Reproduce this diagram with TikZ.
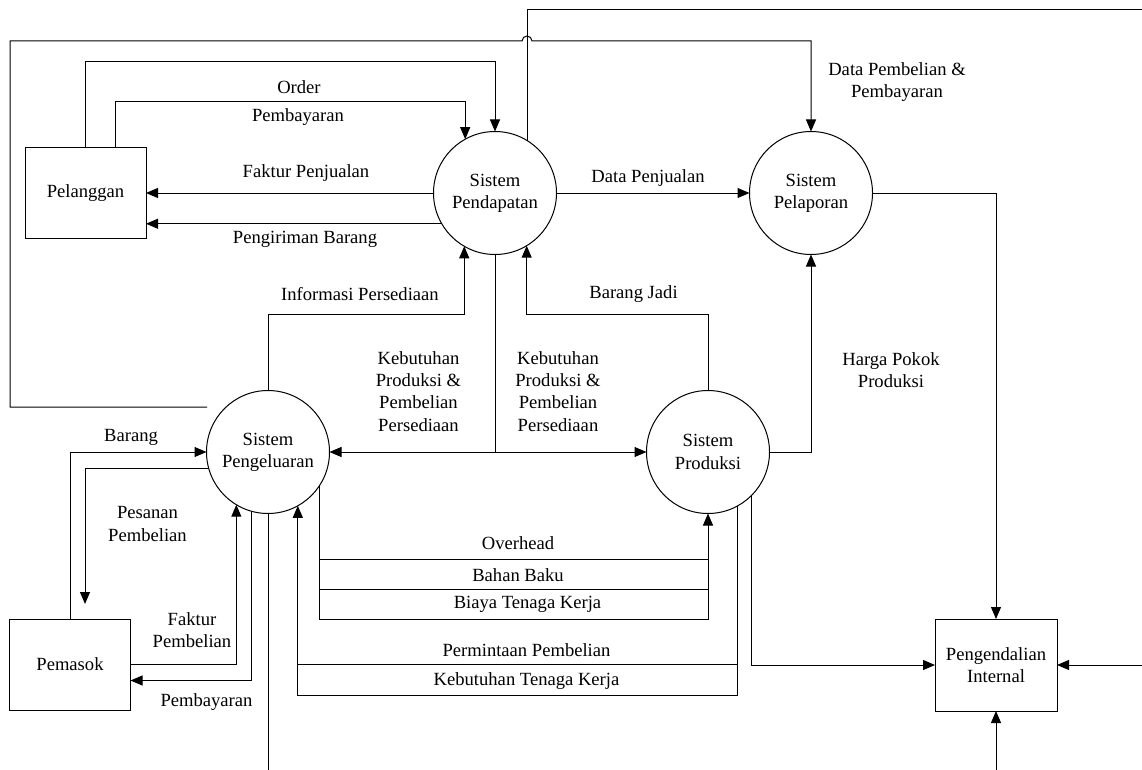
\documentclass[tikz,border=0pt]{standalone}
\usepackage{fontspec}
\setmainfont{Liberation Serif}
\usetikzlibrary{arrows.meta,calc}
\newcommand\dfdfont{\fontsize{18.6}{22.2}\selectfont}
\begin{document}
\begin{tikzpicture}[x=1pt,y=-1pt,line width=1pt,
  arr/.style={-{Triangle[length=12pt,width=10pt]}},
  proc/.style={circle,draw,minimum size=123pt,inner sep=0pt,outer sep=0pt,align=center,font=\dfdfont},
  ent/.style={rectangle,draw,minimum width=121pt,minimum height=91pt,inner sep=0pt,outer sep=0pt,align=center,font=\dfdfont},
  lbl/.style={align=center,font=\dfdfont,inner sep=0pt}]
\useasboundingbox (0,0) rectangle (1142,770);
% nodes
\node[proc] (pend) at (495,193) {Sistem\\Pendapatan};
\node[proc] (lap) at (811,193) {Sistem\\Pelaporan};
\node[proc] (kel) at (268,452) {Sistem\\Pengeluaran};
\node[proc] (prod) at (708,452) {Sistem\\Produksi};
\node[ent] (pel) at (85.5,193) {Pelanggan};
\node[ent] (pem) at (70,664.5) {Pemasok};
\node[ent,minimum width=122pt,minimum height=92pt] (ctl) at (996,665) {Pengendalian\\Internal};
% free ends and junctions
\coordinate (topR) at (1142,10);
\coordinate (loopS) at (207,407);
\coordinate (loopC) at (10,41);
\coordinate (hopL) at (522,41);
\coordinate (rightIn) at (1142,665);
\coordinate (botIn) at (996,770);
\coordinate (botOut) at (268,770);
\coordinate (pesEnd) at (85,604);
\coordinate (kj) at (495,452);
\coordinate (oL1) at (320,559);
\coordinate (oR1) at (708,559);
\coordinate (oL2) at (320,589);
\coordinate (oR2) at (708,589);
\coordinate (pL) at (298,664);
\coordinate (pR) at (738,664);
% connectors
\draw[arr] (pel.north) -- ++(0,-86) -| (pend.north);
\draw[arr] ([xshift=30pt]pel.north) -- ++(0,-46) -| (pend.119.2);
\draw[arr] (pend.west) -- (pel.east);
\draw[arr] (pend.210.27) -- (pend.210.27 -| pel.east);
\draw (pend.58.65) |- (topR);
\draw[arr] (loopS) -| (loopC) -- (hopL) arc[start angle=180,end angle=360,radius=5] -| (lap.north);
\draw[arr] (pend.east) -- (lap.west);
\draw[arr] (lap.east) -| (ctl.north);
\draw[arr] (kel.north) -- ++(0,-76) -| (pend.240.8);
\draw[arr] (prod.north) -- ++(0,-76) -| (pend.301.35);
\draw (pend.south) -- (kj);
\draw[arr] (kj) -- (kel.east);
\draw[arr] (kj) -- (prod.west);
\draw[arr] (prod.east) -| (lap.south);
\draw[arr] (pem.north) |- (kel.west);
\draw[arr] (kel.196.05) -| (pesEnd);
\draw[arr] (pem.east) -| (kel.239.73);
\draw[arr] (kel.254.92) |- ([yshift=-16pt]pem.east);
\draw (kel.south) -- (botOut);
\draw[arr] (kel.327.7) -- ++(0,134.1) -| (prod.south);
\draw (oL1) -- (oR1);
\draw (oL2) -- (oR2);
\draw[arr] (prod.299.2) -- ++(0,189.3) -| (kel.299.2);
\draw (pL) -- (pR);
\draw[arr] (prod.315.7) |- (ctl.west);
\draw[arr] (rightIn) -- (ctl.east);
\draw[arr] (botIn) -- (ctl.south);
% labels
\node[lbl] (tOrder) at (299,87) {Order};
\node[lbl] (tPemb1) at (298,117) {Pembayaran};
\node[lbl] (tFaktJ) at (306,173) {Faktur Penjualan};
\node[lbl] (tKirim) at (305,239) {Pengiriman Barang};
\node[lbl] (tDataPB) at (897,82) {Data Pembelian \&\\Pembayaran};
\node[lbl] (tDataPJ) at (648,178) {Data Penjualan};
\node[lbl] (tInfo) at (360,294) {Informasi Persediaan};
\node[lbl] (tJadi) at (633.5,294) {Barang Jadi};
\node[lbl] (tKebL) at (418.5,391.5) {Kebutuhan\\Produksi \&\\Pembelian\\Persediaan};
\node[lbl] (tKebR) at (558,391.5) {Kebutuhan\\Produksi \&\\Pembelian\\Persediaan};
\node[lbl] (tHPP) at (891,370) {Harga Pokok\\Produksi};
\node[lbl] (tBarang) at (131,437) {Barang};
\node[lbl] (tPesan) at (147.5,524) {Pesanan\\Pembelian};
\node[lbl] (tFaktB) at (192,630.5) {Faktur\\Pembelian};
\node[lbl] (tPemb2) at (206.5,702) {Pembayaran};
\node[lbl] (tOver) at (518,543) {Overhead};
\node[lbl] (tBahan) at (518,575) {Bahan Baku};
\node[lbl] (tBiaya) at (527.5,604) {Biaya Tenaga Kerja};
\node[lbl] (tMinta) at (526.5,650) {Permintaan Pembelian};
\node[lbl] (tKebTK) at (526.5,681) {Kebutuhan Tenaga Kerja};
\end{tikzpicture}
\end{document}
